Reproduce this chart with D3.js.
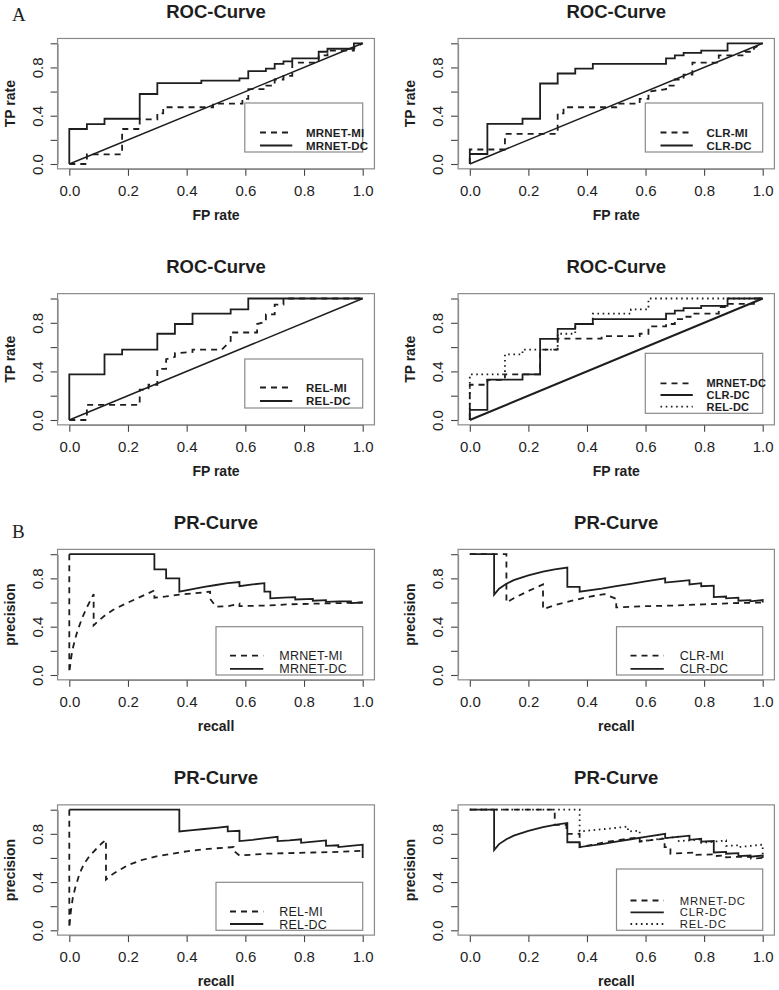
<!DOCTYPE html>
<html><head><meta charset="utf-8">
<script src="https://cdn.jsdelivr.net/npm/d3@7"></script>
<style>body{margin:0;background:#fff}svg{display:block}</style>
</head><body><svg id="c" width="779" height="990"></svg>
<script>
// ---------- data ----------
const tickValues = [0, 0.2, 0.4, 0.6, 0.8, 1.0];
const xTickLabels = ["0.0","0.2","0.4","0.6","0.8","1.0"];
const yTickLabels = ["0.0","","0.4","","0.8",""];
const diagonal = [[0,0],[1,1]];

const rocMrnetMi = [[0,0],[0.06,0],[0.06,0.08],[0.18,0.08],[0.18,0.29],[0.24,0.29],[0.24,0.37],[0.30,0.37],[0.30,0.42],[0.32,0.42],[0.32,0.47],[0.49,0.47],[0.49,0.50],[0.59,0.50],[0.59,0.54],[0.61,0.54],[0.61,0.62],[0.67,0.62],[0.67,0.65],[0.70,0.65],[0.70,0.70],[0.73,0.70],[0.73,0.73],[0.76,0.73],[0.76,0.84],[0.85,0.84],[0.85,0.90],[0.88,0.90],[0.88,0.94],[0.97,0.94],[0.97,0.96],[1,1]];
const rocMrnetDc = [[0,0],[0,0.29],[0.06,0.29],[0.06,0.33],[0.12,0.33],[0.12,0.375],[0.24,0.375],[0.24,0.58],[0.30,0.58],[0.30,0.67],[0.45,0.67],[0.45,0.69],[0.58,0.69],[0.58,0.71],[0.61,0.71],[0.61,0.77],[0.67,0.77],[0.67,0.79],[0.70,0.79],[0.70,0.83],[0.73,0.83],[0.73,0.85],[0.76,0.85],[0.76,0.875],[0.85,0.875],[0.85,0.93],[0.88,0.93],[0.88,0.955],[0.97,0.955],[0.97,1],[1,1]];
const rocClrMi = [[0,0],[0,0.12],[0.12,0.12],[0.12,0.25],[0.30,0.25],[0.30,0.42],[0.32,0.42],[0.32,0.47],[0.50,0.47],[0.50,0.50],[0.58,0.50],[0.58,0.54],[0.61,0.54],[0.61,0.60],[0.67,0.62],[0.67,0.65],[0.70,0.65],[0.70,0.70],[0.73,0.70],[0.73,0.74],[0.76,0.74],[0.76,0.84],[0.85,0.84],[0.85,0.90],[0.94,0.90],[0.94,0.93],[0.97,0.93],[0.97,0.96],[1,1]];
const rocClrDc = [[0,0],[0,0.083],[0.06,0.083],[0.06,0.333],[0.18,0.333],[0.18,0.375],[0.24,0.375],[0.24,0.667],[0.30,0.667],[0.30,0.75],[0.36,0.75],[0.36,0.79],[0.42,0.79],[0.42,0.83],[0.67,0.83],[0.67,0.875],[0.70,0.875],[0.70,0.90],[0.73,0.90],[0.73,0.92],[0.79,0.92],[0.79,0.94],[0.88,0.94],[0.88,1],[1,1]];
const rocRelMi = [[0,0],[0.06,0],[0.06,0.125],[0.24,0.125],[0.24,0.25],[0.27,0.25],[0.27,0.29],[0.30,0.29],[0.30,0.42],[0.33,0.42],[0.33,0.50],[0.36,0.52],[0.36,0.55],[0.42,0.56],[0.42,0.58],[0.52,0.58],[0.55,0.65],[0.55,0.72],[0.64,0.72],[0.64,0.79],[0.67,0.81],[0.67,0.87],[0.70,0.87],[0.70,0.95],[0.73,0.95],[0.73,1],[1,1]];
const rocRelDc = [[0,0],[0,0.375],[0.12,0.375],[0.12,0.54],[0.18,0.54],[0.18,0.58],[0.30,0.58],[0.30,0.71],[0.36,0.71],[0.36,0.79],[0.42,0.79],[0.42,0.875],[0.55,0.875],[0.55,0.91],[0.61,0.91],[0.61,1],[1,1]];

const prMrnetMi = [[0,1],[0,0.02],[0.005,0.12],[0.01,0.2],[0.02,0.3],[0.03,0.38],[0.045,0.48],[0.06,0.56],[0.083,0.67],[0.083,0.41],[0.1,0.45],[0.125,0.5],[0.15,0.54],[0.2,0.6],[0.25,0.655],[0.29,0.70],[0.29,0.64],[0.33,0.65],[0.375,0.665],[0.42,0.675],[0.46,0.685],[0.48,0.69],[0.48,0.63],[0.5,0.565],[0.54,0.57],[0.58,0.59],[0.58,0.57],[0.67,0.575],[0.75,0.585],[0.83,0.59],[0.92,0.595],[1,0.6]];
const prMrnetDc = [[0,1],[0.29,1],[0.29,0.875],[0.33,0.875],[0.33,0.80],[0.375,0.80],[0.375,0.69],[0.42,0.71],[0.46,0.73],[0.5,0.745],[0.54,0.76],[0.58,0.77],[0.58,0.735],[0.625,0.75],[0.665,0.76],[0.665,0.69],[0.685,0.69],[0.685,0.635],[0.73,0.64],[0.77,0.645],[0.77,0.625],[0.83,0.63],[0.83,0.615],[0.875,0.62],[0.875,0.605],[0.92,0.61],[0.96,0.61],[0.96,0.595],[1,0.60]];
const prClrMi = [[0,1],[0.125,1],[0.125,0.60],[0.15,0.635],[0.2,0.695],[0.25,0.75],[0.25,0.545],[0.3,0.585],[0.35,0.615],[0.4,0.645],[0.46,0.67],[0.5,0.63],[0.5,0.56],[0.6,0.57],[0.7,0.575],[0.8,0.585],[0.9,0.595],[1,0.6]];
const prClrDc = [[0,1],[0.083,1],[0.083,0.665],[0.1,0.715],[0.125,0.755],[0.15,0.785],[0.2,0.825],[0.25,0.855],[0.29,0.875],[0.333,0.89],[0.333,0.73],[0.375,0.73],[0.375,0.69],[0.45,0.715],[0.5,0.735],[0.55,0.755],[0.6,0.775],[0.667,0.80],[0.667,0.765],[0.71,0.775],[0.75,0.785],[0.75,0.75],[0.79,0.76],[0.79,0.735],[0.833,0.74],[0.833,0.645],[0.875,0.65],[0.875,0.635],[0.917,0.64],[0.917,0.615],[0.958,0.62],[0.958,0.61],[1,0.62],[1,0.6]];
const prRelMi = [[0,1],[0,0.02],[0.005,0.15],[0.012,0.27],[0.02,0.35],[0.035,0.47],[0.05,0.55],[0.07,0.62],[0.09,0.67],[0.11,0.72],[0.125,0.75],[0.125,0.42],[0.15,0.47],[0.2,0.54],[0.25,0.585],[0.3,0.615],[0.35,0.635],[0.4,0.655],[0.45,0.67],[0.5,0.68],[0.56,0.69],[0.56,0.66],[0.58,0.62],[0.67,0.635],[0.75,0.64],[0.83,0.645],[0.92,0.65],[1,0.66]];
const prRelDc = [[0,1],[0.375,1],[0.375,0.82],[0.42,0.83],[0.46,0.84],[0.5,0.85],[0.54,0.86],[0.54,0.82],[0.58,0.825],[0.58,0.74],[0.625,0.75],[0.67,0.765],[0.71,0.775],[0.71,0.74],[0.75,0.745],[0.79,0.755],[0.79,0.725],[0.833,0.735],[0.875,0.745],[0.875,0.70],[0.917,0.705],[0.917,0.69],[0.958,0.70],[1,0.71],[1,0.6]];

// ---------- layout ----------
const cols = [{x0: 69.3, x1: 362.7}, {x0: 469.8, x1: 762.7}];
const rows = [{y0: 164, y1: 43.3}, {y0: 420, y1: 298.5}, {y0: 675, y1: 554.2}, {y0: 930.3, y1: 809.7}];
const ink = "#1e1e1e", frame = "#8a8a8a", tickInk = "#444";
const dashes = {solid: null, dash: "6,5", dot: "1.6,3.6"};

const rocLg2 = {bl:175.5,bt:-61,bb:-12,lines:[-31.5,-18.5],lx0:190.7,lx1:223,tx:236.7,fs:11.5,fw:"bold",ls:0.2};
const prLg2 = {bl:146.7,bt:-48.3,bb:0,lines:[-19.3,-6.2],lx0:160.7,lx1:194,tx:210,fs:12.5,fw:"normal",ls:0.2};
const panels = [
  {col:0,row:0,title:"ROC-Curve",xl:"FP rate",yl:"TP rate",roc:true,
   series:[{n:"MRNET-MI",d:rocMrnetMi,s:"dash"},{n:"MRNET-DC",d:rocMrnetDc,s:"solid"}], lg:rocLg2},
  {col:1,row:0,title:"ROC-Curve",xl:"FP rate",yl:"TP rate",roc:true,
   series:[{n:"CLR-MI",d:rocClrMi,s:"dash"},{n:"CLR-DC",d:rocClrDc,s:"solid"}], lg:rocLg2},
  {col:0,row:1,title:"ROC-Curve",xl:"FP rate",yl:"TP rate",roc:true,
   series:[{n:"REL-MI",d:rocRelMi,s:"dash"},{n:"REL-DC",d:rocRelDc,s:"solid"}],
   lg:Object.assign({}, rocLg2, {lines:[-32.5,-19]})},
  {col:1,row:1,title:"ROC-Curve",xl:"FP rate",yl:"TP rate",roc:true,diagW:2.2,
   series:[{n:"MRNET-DC",d:rocMrnetDc,s:"dash"},{n:"CLR-DC",d:rocClrDc,s:"solid"},{n:"REL-DC",d:rocRelDc,s:"dot"}],
   lg:Object.assign({}, rocLg2, {bt:-66.7,bb:-6.7,lines:[-36.7,-25,-13.3],fs:11})},
  {col:0,row:2,title:"PR-Curve",xl:"recall",yl:"precision",
   series:[{n:"MRNET-MI",d:prMrnetMi,s:"dash"},{n:"MRNET-DC",d:prMrnetDc,s:"solid"}], lg:prLg2},
  {col:1,row:2,title:"PR-Curve",xl:"recall",yl:"precision",
   series:[{n:"CLR-MI",d:prClrMi,s:"dash"},{n:"CLR-DC",d:prClrDc,s:"solid"}], lg:prLg2},
  {col:0,row:3,title:"PR-Curve",xl:"recall",yl:"precision",
   series:[{n:"REL-MI",d:prRelMi,s:"dash"},{n:"REL-DC",d:prRelDc,s:"solid"}],
   lg:Object.assign({}, prLg2, {bt:-48,lines:[-18.8,-6.3]})},
  {col:1,row:3,title:"PR-Curve",xl:"recall",yl:"precision",
   series:[{n:"MRNET-DC",d:prMrnetDc,s:"dash"},{n:"CLR-DC",d:prClrDc,s:"solid"},{n:"REL-DC",d:prRelDc,s:"dot"}],
   lg:Object.assign({}, prLg2, {bt:-61.3,lines:[-29.8,-18,-6.3],fs:11.3,ls:0.8})}
];

const svg = d3.select("#c");
svg.append("rect").attr("width",779).attr("height",990).attr("fill","#fff");
const FONT = "'Liberation Sans', Arial, Helvetica, sans-serif";

function drawPanel(p) {
  const C = cols[p.col], R = rows[p.row];
  const x = d3.scaleLinear().domain([0,1]).range([C.x0, C.x1]);
  const y = d3.scaleLinear().domain([0,1]).range([R.y0, R.y1]);
  const bx0 = x(-0.04), bx1 = x(1.04), by0 = y(-0.04), by1 = y(1.04);
  const g = svg.append("g");

  // axes
  const xa = g.append("g").attr("transform", `translate(0,${by0})`)
    .call(d3.axisBottom(x).tickValues(tickValues).tickFormat((d,i)=>xTickLabels[i]).tickSize(7).tickSizeOuter(0));
  const ya = g.append("g").attr("transform", `translate(${bx0},0)`)
    .call(d3.axisLeft(y).tickValues(tickValues).tickFormat((d,i)=>yTickLabels[i]).tickSize(7).tickSizeOuter(0));
  [xa, ya].forEach(a => {
    a.attr("font-family", FONT).attr("font-size", 15);
    a.select(".domain").attr("stroke", frame).attr("stroke-width", 1.1);
    a.selectAll(".tick line").attr("stroke", tickInk).attr("stroke-width", 1.1);
    a.selectAll(".tick text").attr("fill", ink);
  });
  xa.selectAll(".tick text").attr("y", (R.y0 + 32) - by0).attr("dy", 0);
  ya.selectAll(".tick text").attr("x", 0).attr("dy", 0).attr("text-anchor", "middle")
    .attr("transform", `translate(${(C.x0 - 26.6) - bx0},0) rotate(-90)`);

  // plot frame
  g.append("rect").attr("x", bx0).attr("y", by1).attr("width", bx1 - bx0).attr("height", by0 - by1)
    .attr("fill", "none").attr("stroke", frame).attr("stroke-width", 1.2);

  // titles
  const cx = (bx0 + bx1) / 2;
  g.append("text").attr("x", cx).attr("y", R.y1 - 25.5).attr("text-anchor", "middle")
    .attr("font-family", FONT).attr("font-size", 18.5).attr("font-weight", "bold").attr("fill", ink).text(p.title);
  g.append("text").attr("x", cx).attr("y", R.y0 + 56).attr("text-anchor", "middle")
    .attr("font-family", FONT).attr("font-size", 14).attr("font-weight", "bold").attr("fill", ink).text(p.xl);
  g.append("text").attr("transform", `translate(${C.x0 - 54.5},${(R.y0 + R.y1) / 2}) rotate(-90)`)
    .attr("text-anchor", "middle").attr("font-family", FONT).attr("font-size", 14).attr("font-weight", "bold")
    .attr("fill", ink).text(p.yl);

  const line = d3.line().x(d => x(d[0])).y(d => y(d[1]));
  if (p.roc) {
    g.append("path").attr("d", line(diagonal)).attr("fill", "none").attr("stroke", ink)
      .attr("stroke-width", p.diagW || 1.5);
  }
  p.series.forEach(s => {
    g.append("path").attr("d", line(s.d)).attr("fill", "none").attr("stroke", ink)
      .attr("stroke-width", 1.8).attr("stroke-dasharray", dashes[s.s]).attr("stroke-linejoin", "miter");
  });

  // legend
  const L = p.lg;
  g.append("rect").attr("x", C.x0 + L.bl).attr("y", R.y0 + L.bt).attr("width", C.x1 - (C.x0 + L.bl))
    .attr("height", L.bb - L.bt).attr("fill", "#fff").attr("stroke", frame).attr("stroke-width", 1.2);
  p.series.forEach((s, i) => {
    const ly = R.y0 + L.lines[i];
    g.append("line").attr("x1", C.x0 + L.lx0).attr("x2", C.x0 + L.lx1).attr("y1", ly).attr("y2", ly)
      .attr("stroke", ink).attr("stroke-width", 1.8).attr("stroke-dasharray", dashes[s.s]);
    g.append("text").attr("x", C.x0 + L.tx).attr("y", ly).attr("dy", "0.36em")
      .attr("font-family", FONT).attr("font-size", L.fs).attr("font-weight", L.fw)
      .attr("letter-spacing", L.ls).attr("fill", ink).text(s.n);
  });
}
panels.forEach(drawPanel);

// panel group letters
svg.append("text").attr("x", 12).attr("y", 21).attr("font-family", "'Liberation Serif', 'Times New Roman', serif")
  .attr("font-size", 19).attr("fill", ink).text("A");
svg.append("text").attr("x", 12).attr("y", 538).attr("font-family", "'Liberation Serif', 'Times New Roman', serif")
  .attr("font-size", 19).attr("fill", ink).text("B");
</script></body></html>
